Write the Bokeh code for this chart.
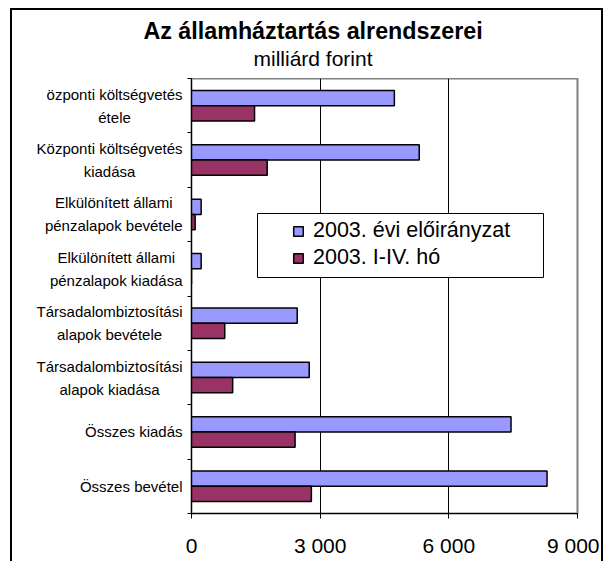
from bokeh.plotting import figure
from bokeh.layouts import column, row
from bokeh.models import (Range1d, FixedTicker, ColumnDataSource, Label,
                          Legend, LegendItem, BoxAnnotation)
from bokeh.core.properties import value
from bokeh.transform import dodge
from bokeh.embed import file_html
from bokeh.resources import INLINE

# ---------------- data ----------------
categories = [
    "özponti költségvetés\nétele",
    "Központi költségvetés\nkiadása",
    "Elkülönített állami\npénzalapok bevétele",
    "Elkülönített állami\npénzalapok kiadása",
    "Társadalombiztosítási\nalapok bevétele",
    "Társadalombiztosítási\nalapok kiadása",
    "Összes kiadás",
    "Összes bevétel",
]
plan_2003 = [4730, 5310, 225, 225, 2465, 2745, 7450, 8290]
actual_2003_jan_apr = [1470, 1765, 85, 0, 775, 960, 2415, 2795]
series_names = ["2003. évi előirányzat", "2003. I-IV. hó"]
x_ticks = [0, 3000, 6000, 9000]
x_tick_labels = ["0", "3 000", "6 000", "9 000"]
title_text = "Az államháztartás alrendszerei"
subtitle_text = "milliárd forint"

# ---------------- layout geometry (pixels) ----------------
PAGE_W, PAGE_H = 605, 561
TOP_H = 78            # height of title strip (plot frame starts here)
LABEL_W = 184         # width of category label strip
RIGHT_W = 6           # thin strip at the right (chart border is drawn there)
FRAME_LEFT_GAP = 7    # y axis area inside main figure
FRAME_W = 386
FRAME_H = 435
BODY_H = PAGE_H - TOP_H
MAIN_W = PAGE_W - LABEL_W - RIGHT_W

FONT = "Liberation Sans"
LABEL_PX = 15

# approximate Arial / Liberation Sans advance widths (per 1000 em)
W = {' ': 278, 'a': 556, 'á': 556, 'b': 556, 'c': 500, 'd': 556, 'e': 556, 'é': 556,
     'f': 278, 'g': 556, 'h': 556, 'i': 222, 'í': 278, 'j': 222, 'k': 500, 'l': 222,
     'm': 833, 'n': 556, 'o': 556, 'ö': 556, 'ő': 556, 'p': 556, 'r': 333, 's': 500,
     't': 278, 'u': 556, 'ü': 556, 'v': 500, 'z': 500, 'y': 500, 'E': 667, 'K': 667,
     'T': 611, 'Ö': 778}


def text_width(s, px):
    return sum(W.get(ch, 556) for ch in s) * px / 1000.0


n = len(categories)
label_right = LABEL_W - 2
label_x = [label_right - max(text_width(line, LABEL_PX) for line in c.split("\n")) / 2
           for c in categories]
pos = [i + 0.5 for i in range(n)]

src = ColumnDataSource(dict(cat=categories, pos=pos, plan=plan_2003,
                            actual=actual_2003_jan_apr, lx=label_x))


def blank(width, height, x_range, y_range):
    f = figure(width=width, height=height, x_range=x_range, y_range=y_range,
               output_backend="svg", toolbar_location=None,
               x_axis_location=None, y_axis_location=None, min_border=0)
    f.grid.visible = False
    f.outline_line_color = None
    f.background_fill_color = None
    f.border_fill_color = None
    return f


# ---------------- main chart ----------------
p = figure(width=MAIN_W, height=BODY_H,
           x_range=Range1d(x_ticks[0], x_ticks[-1]),
           y_range=Range1d(n, 0),
           output_backend="svg", toolbar_location=None,
           min_border_left=FRAME_LEFT_GAP,
           min_border_right=MAIN_W - FRAME_LEFT_GAP - FRAME_W,
           min_border_top=0, min_border_bottom=BODY_H - FRAME_H)
p.background_fill_color = "white"
p.border_fill_color = "white"
p.outline_line_color = "#808080"
p.outline_line_width = 2

p.ygrid.visible = False
p.xgrid.ticker = FixedTicker(ticks=x_ticks)
p.xgrid.grid_line_color = "black"
p.xgrid.grid_line_width = 1

xa = p.xaxis[0]
xa.ticker = FixedTicker(ticks=x_ticks)
xa.major_label_overrides = {t: l for t, l in zip(x_ticks, x_tick_labels)}
xa.major_label_text_font = FONT
xa.major_label_text_font_size = "21px"
xa.major_label_text_color = "black"
xa.major_tick_out = 5
xa.major_tick_in = 0
xa.minor_tick_line_color = None
xa.axis_line_color = "black"
xa.major_tick_line_color = "black"
xa.major_label_standoff = 15

ya = p.yaxis[0]
ya.ticker = FixedTicker(ticks=list(range(n + 1)))
ya.major_label_text_alpha = 0
ya.major_label_text_font_size = "1px"
ya.major_label_standoff = 0
ya.major_tick_out = 4
ya.major_tick_in = 0
ya.minor_tick_line_color = None
ya.axis_line_color = "black"
ya.major_tick_line_color = "black"

bar_h = 0.28
r_plan = p.hbar(y=dodge("pos", -bar_h / 2, range=p.y_range), left=0, right="plan",
                height=bar_h, source=src, fill_color="#9999FF",
                line_color="black", line_width=1.5)
r_act = p.hbar(y=dodge("pos", bar_h / 2, range=p.y_range), left=0, right="actual",
               height=bar_h, source=src, fill_color="#993366",
               line_color="black", line_width=1.5)

# legend frame and legend
p.add_layout(BoxAnnotation(left=66, right=352, top=300, bottom=236,
                           left_units="screen", right_units="screen",
                           top_units="screen", bottom_units="screen",
                           fill_color="white", fill_alpha=1,
                           line_color="black", line_width=1, line_alpha=1))
legend = Legend(items=[LegendItem(label=series_names[0], renderers=[r_plan]),
                       LegendItem(label=series_names[1], renderers=[r_act])],
                location=(101, 243), padding=0, margin=0, spacing=2,
                glyph_width=12, glyph_height=12, label_standoff=9,
                label_text_font=FONT, label_text_font_size="21.5px",
                label_text_color="black",
                background_fill_alpha=0, border_line_alpha=0)
p.add_layout(legend)

# ---------------- title strip ----------------
pt = blank(PAGE_W, TOP_H, Range1d(0, PAGE_W), Range1d(TOP_H, 0))
pt.add_layout(Label(x=312.5, y=30, text=title_text, text_align="center",
                    text_baseline="middle", text_font=FONT, text_font_size="23.3px",
                    text_font_style="bold", text_color="black"))
pt.add_layout(Label(x=312.5, y=58, text=subtitle_text, text_align="center",
                    text_baseline="middle", text_font=FONT, text_font_size="21px",
                    text_color="black"))

# ---------------- category label strip (shares the y scale) ----------------
pl = blank(LABEL_W, BODY_H, Range1d(0, LABEL_W), p.y_range)
pl.text(x="lx", y="pos", text="cat", source=src, text_align="center",
        text_baseline="middle", text_font=value(FONT),
        text_font_size=value(f"{LABEL_PX}px"), text_color="black",
        text_line_height=1.35)

# ---------------- right strip ----------------
pr = blank(RIGHT_W, BODY_H, Range1d(0, RIGHT_W), p.y_range)

# outer chart border drawn as the page background of the layout
border_bg = ("linear-gradient(#000,#000) 10px 8px / 2px 560px no-repeat, "
             "linear-gradient(#000,#000) 10px 8px / 593px 2px no-repeat, "
             "linear-gradient(#000,#000) 601px 8px / 2px 560px no-repeat, #fff")

layout = column(pt, row(pl, p, pr), styles={"background": border_bg})

open("out.html", "w").write(file_html(layout, INLINE))
